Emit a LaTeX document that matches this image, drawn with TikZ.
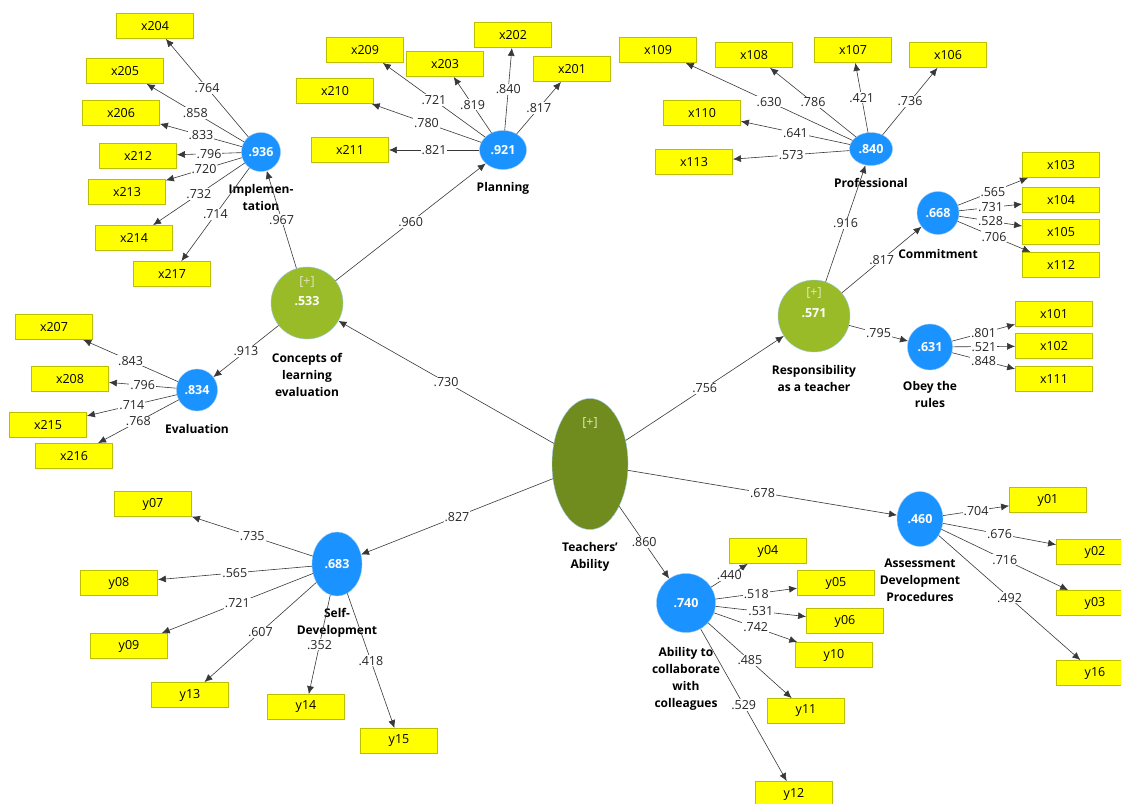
\documentclass[tikz,border=0pt]{standalone}
\usepackage{fontspec}
\setmainfont{Open Sans}
\usetikzlibrary{arrows.meta,positioning,shapes.geometric}
\definecolor{lvblue}{RGB}{26,146,255}
\definecolor{lvgreen}{RGB}{154,187,40}
\definecolor{lvolive}{RGB}{112,140,30}
\definecolor{lvrim}{RGB}{150,200,240}
\definecolor{boxfill}{RGB}{255,255,0}
\definecolor{boxline}{RGB}{190,190,0}
\definecolor{plustext}{RGB}{228,230,190}

\begin{document}
\begin{tikzpicture}[x=1pt,y=-1pt,font=\fontsize{12.5}{17}\selectfont,
  ind/.style={draw=boxline,fill=boxfill,line width=0.8pt,minimum width=77pt,minimum height=25pt,inner sep=0pt},
  lv/.style={ellipse,draw=lvrim,fill=lvblue,text=white,font=\fontsize{12.5}{17}\selectfont\bfseries,inner sep=0pt},
  hoc/.style={circle,draw=lvrim,fill=lvgreen,minimum size=72pt,inner sep=0pt},
  val/.style={text=white,font=\fontsize{12.5}{17}\selectfont\bfseries,inner sep=0pt},
  plus/.style={text=plustext,inner sep=0pt},
  lvname/.style={align=center,font=\fontsize{12}{17}\selectfont\bfseries,inner sep=0pt},
  ld/.style={draw=black!78,line width=0.6pt,-{Latex[length=8pt,width=7pt]}},
  lbl/.style={fill=white,inner sep=1pt,text=black!85}]
  \useasboundingbox (0,0) rectangle (1121,803);

  \foreach \n/\x/\y in {x204/155/26,x205/125/71,x206/121/113,x212/138/156,x213/127/192,x214/134/238,x217/172/274,
    x209/365/50,x203/445/64,x202/513/35,x201/572/69,x210/335/91,x211/350/150,
    x109/658/50,x108/754/55,x107/853/50,x106/948/55,x110/702/113,x113/694/162,
    x103/1061/165,x104/1061/200,x105/1061/232,x112/1061/265,x101/1054/314,x102/1054/346,x111/1054/379,
    x207/54/327,x208/70/379,x215/48/425,x216/74/456,
    y07/153/504,y08/119/583,y09/129/646,y13/190/695,y14/306/707,y15/399/741,
    y04/768/551,y05/836/583,y06/845/621,y10/834/655,y11/806/711,y12/794/794,
    y01/1048/500,y02/1095/552,y03/1095/603,y16/1095/673}
    \node[ind] (\n) at (\x,\y) {\n};

  \node[lv,minimum width=39pt,minimum height=39pt] (imp) at (261,152) {.936};
  \node[lv,minimum width=47pt,minimum height=39pt] (pla) at (503,150) {.921};
  \node[lv,minimum width=43pt,minimum height=33pt] (pro) at (871,149) {.840};
  \node[lv,minimum width=42pt,minimum height=43pt] (com) at (938,213) {.668};
  \node[lv,minimum width=45pt,minimum height=46pt] (obe) at (930,347) {.631};
  \node[lv,minimum width=41pt,minimum height=42pt] (eva) at (197,390) {.834};
  \node[lv,minimum width=50pt,minimum height=64pt] (sel) at (337,564) {.683};
  \node[lv,minimum width=59pt,minimum height=59pt] (abi) at (686,603) {.740};
  \node[lv,minimum width=46pt,minimum height=55pt] (ass) at (920,519) {.460};
  \node[hoc] (con) at (307,303) {};
  \node[hoc] (res) at (814,316) {};
  \node[ellipse,draw=lvrim,fill=lvolive,minimum width=76pt,minimum height=131pt] (tea) at (590,464) {};

  \node[val] (conv) at ([yshift=2pt]con.center) {.533};
  \node[plus] (conp) at ([yshift=21pt]con.center) {[+]};
  \node[val] (resv) at ([yshift=3pt]res.center) {.571};
  \node[plus] (resp) at ([yshift=23pt]res.center) {[+]};
  \node[plus] (teap) at ([yshift=41pt]tea.center) {[+]};

  \node[lvname,below=12pt of imp] (impn) {Implemen-\\tation};
  \node[lvname,below=12pt of pla] (plan) {Planning};
  \node[lvname,below=12pt of pro] (pron) {Professional};
  \node[lvname,below=14pt of com] (comn) {Commitment};
  \node[lvname,below=11pt of obe] (oben) {Obey the\\rules};
  \node[lvname,below=13pt of eva] (evan) {Evaluation};
  \node[lvname,below=12pt of sel] (seln) {Self-\\Development};
  \node[lvname,below=14pt of abi] (abin) {Ability to\\collaborate\\with\\colleagues};
  \node[lvname,below=12pt of ass] (assn) {Assessment\\Development\\Procedures};
  \node[lvname,below=14pt of con] (conn) {Concepts of\\learning\\evaluation};
  \node[lvname,below=13pt of res] (resn) {Responsibility\\as a teacher};
  \node[lvname,below=12pt of tea] (tean) {Teachers'\\Ability};

  \foreach \t/\v in {x204/.764,x205/.858,x206/.833,x212/.796,x213/.720,x214/.732,x217/.714}
    \draw[ld] (imp) -- node[lbl]{\v} (\t);
  \foreach \t/\v in {x209/.721,x203/.819,x202/.840,x201/.817,x210/.780,x211/.821}
    \draw[ld] (pla) -- node[lbl]{\v} (\t);
  \foreach \t/\v in {x109/.630,x108/.786,x107/.421,x106/.736,x110/.641,x113/.573}
    \draw[ld] (pro) -- node[lbl]{\v} (\t);
  \foreach \t/\v in {x103/.565,x104/.731,x105/.528,x112/.706}
    \draw[ld] (com) -- node[lbl]{\v} (\t);
  \foreach \t/\v in {x101/.801,x102/.521,x111/.848}
    \draw[ld] (obe) -- node[lbl]{\v} (\t);
  \foreach \t/\v in {x207/.843,x208/.796,x215/.714,x216/.768}
    \draw[ld] (eva) -- node[lbl]{\v} (\t);
  \foreach \t/\v in {y07/.735,y08/.565,y09/.721,y13/.607,y14/.352,y15/.418}
    \draw[ld] (sel) -- node[lbl]{\v} (\t);
  \foreach \t/\v in {y04/.440,y05/.518,y06/.531,y10/.742,y11/.485,y12/.529}
    \draw[ld] (abi) -- node[lbl]{\v} (\t);
  \foreach \t/\v in {y01/.704,y02/.676,y03/.716,y16/.492}
    \draw[ld] (ass) -- node[lbl]{\v} (\t);

  \foreach \s/\t/\v in {tea/con/.730,tea/res/.756,tea/sel/.827,tea/abi/.860,tea/ass/.678,
    con/imp/.967,con/pla/.960,con/eva/.913,res/pro/.916,res/com/.817,res/obe/.795}
    \draw[ld] (\s) -- node[lbl]{\v} (\t);
\end{tikzpicture}
\end{document}
